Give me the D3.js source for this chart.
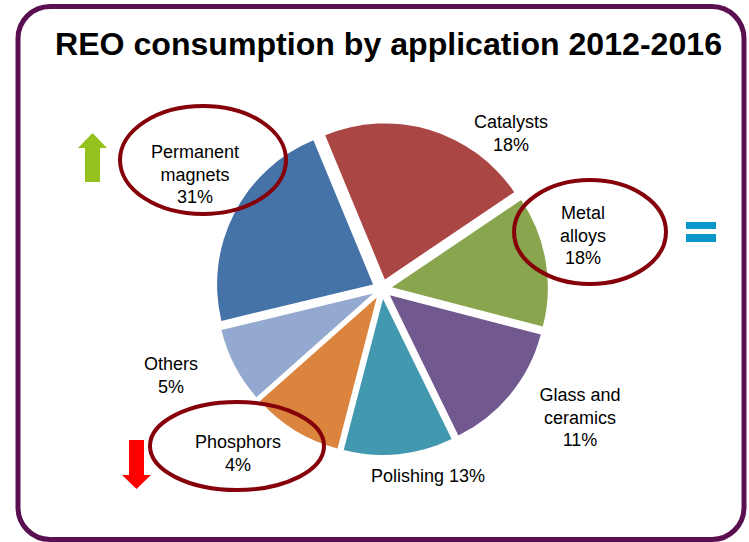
<!DOCTYPE html>
<html>
<head>
<meta charset="utf-8">
<script src="https://cdn.jsdelivr.net/npm/d3@7"></script>
<style>
  html, body { margin: 0; padding: 0; background: #ffffff; }
  svg { display: block; }
  text { font-family: "Liberation Sans", Arial, sans-serif; }
</style>
</head>
<body>
<svg id="chart" width="749" height="542"></svg>
<script>
// ---- data ----
const title = "REO consumption by application 2012-2016";
const categories = ["Catalysts", "Metal alloys", "Glass and ceramics", "Polishing", "Phosphors", "Others", "Permanent magnets"];
// slice sizes as drawn in the picture (share of the circle, %)
const sliceValues = [21.8, 13.5, 13.7, 11.3, 9.4, 7.8, 22.5];
// percentages printed in the labels
const labelPercents = [18, 18, 11, 13, 4, 5, 31];
const labelLines = [
  ["Catalysts", "18%"],
  ["Metal", "alloys", "18%"],
  ["Glass and", "ceramics", "11%"],
  ["Polishing 13%"],
  ["Phosphors", "4%"],
  ["Others", "5%"],
  ["Permanent", "magnets", "31%"]
];
const highlighted = ["Permanent magnets", "Metal alloys", "Phosphors"];
const trend = { "Permanent magnets": "up", "Metal alloys": "equal", "Phosphors": "down" };

// ---- layout / style ----
const colors = ["#aa4643", "#89a54e", "#71588f", "#4198af", "#db843d", "#93a9cf", "#4572a7"];
const cx = 382, cy = 289, radius = 156, explode = 10;
const startDeg = -22.5;
const labelPos = [
  [511, 128], [583, 219], [580, 401], [428, 482], [238, 448], [171, 370], [195, 158]
];
const ellipses = {
  "Permanent magnets": [203, 160, 83, 54],
  "Metal alloys": [590, 232, 76, 52],
  "Phosphors": [237, 446, 87, 44]
};

const svg = d3.select("#chart");

// frame
svg.append("rect")
  .attr("x", 18).attr("y", 6.5)
  .attr("width", 726).attr("height", 533)
  .attr("rx", 32).attr("ry", 32)
  .attr("fill", "#ffffff")
  .attr("stroke", "#5a1050")
  .attr("stroke-width", 5);

// title
svg.append("text")
  .attr("x", 55).attr("y", 55)
  .attr("font-size", 31)
  .attr("font-weight", "bold")
  .attr("fill", "#000")
  .attr("textLength", 667)
  .attr("lengthAdjust", "spacingAndGlyphs")
  .text(title);

// pie
const pie = d3.pie().sort(null).value(d => d)
  .startAngle(startDeg * Math.PI / 180)
  .endAngle(startDeg * Math.PI / 180 + 2 * Math.PI);
const arcs = pie(sliceValues);
const arc = d3.arc().innerRadius(0).outerRadius(radius);

const g = svg.append("g").attr("transform", `translate(${cx},${cy})`);
g.selectAll("path.slice")
  .data(arcs)
  .join("path")
  .attr("class", "slice")
  .attr("fill", (d, i) => colors[i])
  .attr("transform", d => {
    const a = (d.startAngle + d.endAngle) / 2;
    return `translate(${explode * Math.sin(a)},${-explode * Math.cos(a)})`;
  })
  .attr("d", arc);

// labels
categories.forEach((c, i) => {
  const t = svg.append("text")
    .attr("text-anchor", "middle")
    .attr("font-size", 18)
    .attr("fill", "#000");
  labelLines[i].forEach((line, j) => {
    t.append("tspan")
      .attr("x", labelPos[i][0])
      .attr("y", labelPos[i][1] + j * 22.5)
      .text(line);
  });
});

// highlight ellipses
highlighted.forEach(c => {
  const e = ellipses[c];
  svg.append("ellipse")
    .attr("cx", e[0]).attr("cy", e[1])
    .attr("rx", e[2]).attr("ry", e[3])
    .attr("fill", "none")
    .attr("stroke", "#850008")
    .attr("stroke-width", 4);
});

// trend markers
// up arrow (green)
svg.append("path")
  .attr("d", "M85,182 L100,182 L100,148 L107,148 L92.5,133 L78,148 L85,148 Z")
  .attr("fill", "#95c11f");
// down arrow (red)
svg.append("path")
  .attr("d", "M129,440 L144,440 L144,475 L151,475 L136.5,489 L122,475 L129,475 Z")
  .attr("fill", "#ff0000");
// equals (blue)
svg.append("rect").attr("x", 686).attr("y", 222).attr("width", 30).attr("height", 7).attr("fill", "#0a97c9");
svg.append("rect").attr("x", 686).attr("y", 234).attr("width", 30).attr("height", 8).attr("fill", "#0a97c9");
</script>
</body>
</html>
